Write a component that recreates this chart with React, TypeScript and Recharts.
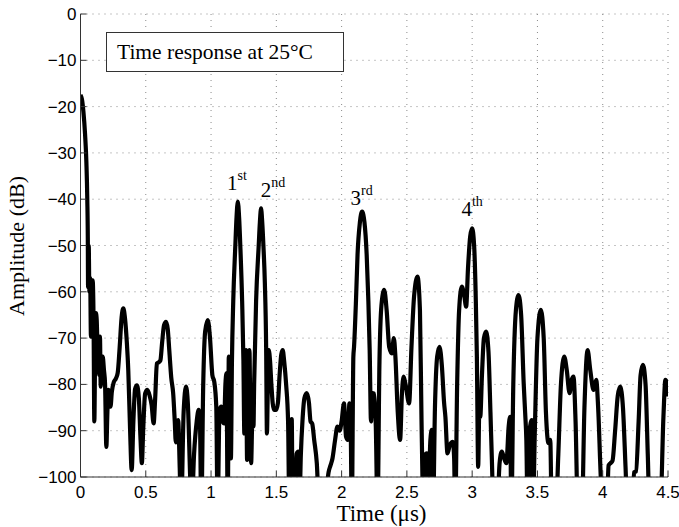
import React from "react";
import {
  CartesianGrid,
  Line,
  LineChart,
  ReferenceDot,
  XAxis,
  YAxis,
} from "recharts";

const BOTTOM = -108; // below the axis floor, clipped

// time (µs) and amplitude (dB) left to right
const timeUs = [
  0.0, 0.01, 0.022, 0.035, 0.045, 0.052, 0.056, 0.058, 0.063, 0.068, 0.074, 0.08, 0.086, 0.093, 0.1, 0.106, 0.111, 0.118, 0.124, 0.13,
  0.137, 0.143, 0.149, 0.155, 0.162, 0.17, 0.18, 0.188, 0.198, 0.206, 0.213, 0.222, 0.23, 0.24, 0.255, 0.27, 0.285, 0.3, 0.315, 0.328,
  0.34, 0.355, 0.366, 0.38, 0.392, 0.405, 0.418, 0.432, 0.447, 0.46, 0.47, 0.48, 0.495, 0.512, 0.53, 0.545, 0.56, 0.572, 0.585, 0.6,
  0.612, 0.625, 0.64, 0.655, 0.668, 0.68, 0.695, 0.71, 0.722, 0.73, 0.74, 0.748, 0.76, 0.77, 0.79, 0.808, 0.822, 0.84, 0.85, 0.87,
  0.89, 0.905, 0.915, 0.925, 0.94, 0.955, 0.975, 0.992, 1.01, 1.025, 1.04, 1.05, 1.065, 1.078, 1.09, 1.1, 1.11, 1.118, 1.128, 1.136,
  1.145, 1.152, 1.16, 1.17, 1.186, 1.195, 1.205, 1.215, 1.224, 1.238, 1.248, 1.255, 1.262, 1.268, 1.276, 1.285, 1.294, 1.3, 1.307, 1.316,
  1.325, 1.33, 1.345, 1.365, 1.374, 1.383, 1.392, 1.401, 1.412, 1.422, 1.428, 1.436, 1.442, 1.452, 1.462, 1.472, 1.483, 1.498, 1.512, 1.525,
  1.538, 1.549, 1.56, 1.575, 1.59, 1.6, 1.612, 1.618, 1.625, 1.64, 1.655, 1.668, 1.675, 1.688, 1.7, 1.715, 1.733, 1.75, 1.762, 1.775,
  1.79, 1.81, 1.83, 1.86, 1.88, 1.9, 1.915, 1.93, 1.95, 1.968, 1.985, 2.0, 2.018, 2.034, 2.047, 2.06, 2.07, 2.078, 2.09, 2.095,
  2.11, 2.122, 2.14, 2.157, 2.175, 2.192, 2.205, 2.215, 2.225, 2.236, 2.248, 2.262, 2.275, 2.29, 2.305, 2.326, 2.345, 2.365, 2.385, 2.4,
  2.412, 2.43, 2.448, 2.462, 2.475, 2.49, 2.517, 2.535, 2.555, 2.581, 2.6, 2.612, 2.628, 2.645, 2.653, 2.662, 2.68, 2.691, 2.7, 2.715,
  2.732, 2.75, 2.768, 2.785, 2.795, 2.811, 2.83, 2.852, 2.862, 2.87, 2.885, 2.9, 2.921, 2.94, 2.954, 2.968, 2.985, 3.0, 3.015, 3.028,
  3.036, 3.046, 3.055, 3.062, 3.075, 3.09, 3.107, 3.125, 3.14, 3.151, 3.165, 3.19, 3.21, 3.227, 3.245, 3.262, 3.28, 3.291, 3.3, 3.315,
  3.335, 3.355, 3.375, 3.395, 3.406, 3.415, 3.425, 3.44, 3.457, 3.465, 3.48, 3.5, 3.526, 3.548, 3.565, 3.585, 3.598, 3.61, 3.64, 3.66,
  3.68, 3.705, 3.725, 3.746, 3.762, 3.776, 3.792, 3.81, 3.84, 3.86, 3.884, 3.905, 3.93, 3.95, 3.965, 3.985, 4.0, 4.03, 4.045, 4.06,
  4.075, 4.095, 4.115, 4.134, 4.155, 4.175, 4.19, 4.225, 4.24, 4.255, 4.275, 4.29, 4.308, 4.328, 4.345, 4.36, 4.44, 4.465, 4.48, 4.49,
  4.5,
];

const amplitudeDb = [
  -17.5, -18.3, -21, -26, -32, -40, -48.5, -59, -50, -60, -57, -69.7, -60, -57.5, -66, -88, -76, -64.6, -66, -71.5,
  -74, -78, -69.7, -80.5, -76, -74, -77, -79.8, -93.5, -86, -81.2, -82, -84.8, -81.6, -79.5, -78.8, -77.5, -72, -65.5, -63.6,
  -65.5, -71, -77, -90, -98.5, -88, -81, -80.2, -83, -92, -97, -90, -82, -81.2, -82.5, -84.5, -88.4, -83, -75.5, -75.2,
  -74.8, -71, -67.2, -66.5, -68, -72.6, -78.5, -82, -88, -92.5, -88, -87.7, -98, BOTTOM, -86, -80.5, -84, -100, BOTTOM, -95,
  -88, -85.5, -88, BOTTOM, -80, -68.5, -66.1, -70, -78, -79.5, -84.8, BOTTOM, -85.5, -84.8, -88, -88.4, -80, -77.6, BOTTOM, -74,
  -80, -96, -75, -62, -50, -44, -40.5, -44, -50, -62, -75, -90.6, -78, -72.6, -96.3, -80, -72.6, -85, -97, -88,
  -89.1, -80, -62, -50, -45, -42, -45, -50, -58, -72, -90.6, -78, -72.6, -75, -80, -84, -85.5, -85.5, -84, -78,
  -73.5, -72.6, -75, -80, -88, BOTTOM, -88, -87.5, BOTTOM, BOTTOM, -95, -94.5, BOTTOM, -95, -88, -83, -81.9, -84, -88, -88.5,
  -92, -97, BOTTOM, BOTTOM, -104, -99, -97.5, -96, -92, -89.1, -90, -88, -84.1, -91.3, -92, -84.1, -90, BOTTOM, -74, -72,
  -62, -52, -45, -42.7, -45, -52, -62, -72.6, -88, -81.9, -82, -89.1, BOTTOM, -75, -63, -59.6, -64, -72, -73.3, -70,
  -74, -86, -92, -82, -78.3, -80, -84.1, -72, -61, -56.7, -64, -87.7, BOTTOM, -95, -94.9, BOTTOM, -92, -89.8, BOTTOM, -85,
  -74, -71.9, -76, -84, -87, -94.9, -93, -92.4, -96, BOTTOM, -80, -64, -58.9, -61, -63.2, -55, -48, -46.3, -50, -62,
  -74, -97.8, -85, -87, -78, -70, -68.6, -73, -86, -96.3, BOTTOM, BOTTOM, -97, -94.5, -96, -97, -89, -87, BOTTOM, -80,
  -64, -60.7, -65, -80, -86.2, -92, BOTTOM, -90, -87.7, BOTTOM, -90, -70, -63.9, -70, -86, -92.7, -92, BOTTOM, BOTTOM, -95,
  -80, -74, -77, -81.9, -79, -78.3, -88, BOTTOM, BOTTOM, -85, -72.6, -77, -81.2, -79, -85, -100, BOTTOM, BOTTOM, -97.5, -97,
  -96.5, -90, -82.5, -80.5, -85, -98, BOTTOM, BOTTOM, -99, -98.8, -88, -78, -75.8, -80, -95, BOTTOM, BOTTOM, -87, -79, -79.5,
  -82.6,
];

const xTicks = [0, 0.5, 1, 1.5, 2, 2.5, 3, 3.5, 4, 4.5];
const yTicks = [-100, -90, -80, -70, -60, -50, -40, -30, -20, -10, 0];

// echo labels, anchored in data units
const echoNumber = ["1", "2", "3", "4"];
const echoSuffix = ["st", "nd", "rd", "th"];
const echoTime = [1.199, 1.475, 2.153, 3.0];
const echoDb = [-38.0, -39.5, -41.3, -43.6];

const data = timeUs.map((t, i) => ({ t, db: amplitudeDb[i] }));

const tickFont = { fill: "#000", fontSize: 17, fontFamily: "Liberation Sans, Arial, sans-serif" };
const serif = "Liberation Serif, Times New Roman, serif";

const fmtY = (v: number) => (v < 0 ? `\u2212${Math.abs(v)}` : `${v}`);

export default function App() {
  return (
    <div style={{ position: "absolute", left: 0, top: 0, width: 679, height: 527, background: "#fff" }}>
      <LineChart width={679} height={527} data={data} margin={{ top: 14, right: 11, bottom: 0, left: 0 }}>
        <CartesianGrid stroke="#8a8a8a" strokeWidth={1} strokeDasharray="1 5" />
        <XAxis
          dataKey="t"
          type="number"
          domain={[0, 4.5]}
          ticks={xTicks}
          allowDataOverflow
          height={50}
          tickSize={-6}
          tickMargin={15}
          stroke="#333"
          tick={tickFont}
        />
        <XAxis
          xAxisId="top"
          orientation="top"
          type="number"
          domain={[0, 4.5]}
          ticks={xTicks}
          allowDataOverflow
          height={0}
          tickSize={-6}
          tick={false}
          stroke="#333"
        />
        <YAxis
          type="number"
          domain={[-100, 0]}
          ticks={yTicks}
          allowDataOverflow
          width={80.5}
          tickSize={-6}
          tickMargin={10}
          stroke="#333"
          tick={tickFont}
          tickFormatter={fmtY}
        />
        <YAxis
          yAxisId="right"
          orientation="right"
          type="number"
          domain={[-100, 0]}
          ticks={yTicks}
          allowDataOverflow
          width={0}
          tickSize={-6}
          tick={false}
          stroke="#333"
        />
        <Line
          dataKey="db"
          type="monotone"
          stroke="#000"
          strokeWidth={4.2}
          dot={false}
          isAnimationActive={false}
        />
        {echoNumber.map((n, i) => (
          <ReferenceDot
            key={n}
            x={echoTime[i]}
            y={echoDb[i]}
            r={0}
            shape={(p: any) => (
              <text x={p.cx} y={p.cy} textAnchor="middle" fontFamily={serif} fontSize={21} fill="#000">
                {n}
                <tspan dy={-10} fontSize={14}>{echoSuffix[i]}</tspan>
              </text>
            )}
          />
        ))}
      </LineChart>
      <div
        style={{
          position: "absolute",
          left: 106,
          top: 32,
          width: 226,
          height: 38,
          border: "1px solid #333",
          background: "#fff",
          fontFamily: serif,
          fontSize: 21.5,
          lineHeight: "38px",
          paddingLeft: 10,
          boxSizing: "content-box",
          whiteSpace: "nowrap",
        }}
      >
        Time response at 25°C
      </div>
      <div
        style={{
          position: "absolute",
          left: 0,
          width: 679,
          paddingLeft: 84,
          boxSizing: "border-box",
          top: 502,
          lineHeight: "23px",
          textAlign: "center",
          fontFamily: serif,
          fontSize: 23,
        }}
      >
        Time (μs)
      </div>
      <div
        style={{
          position: "absolute",
          left: 17,
          top: 246,
          transform: "translate(-50%, -50%) rotate(-90deg)",
          fontFamily: serif,
          fontSize: 22,
          lineHeight: "24px",
          whiteSpace: "nowrap",
        }}
      >
        Amplitude (dB)
      </div>
    </div>
  );
}
